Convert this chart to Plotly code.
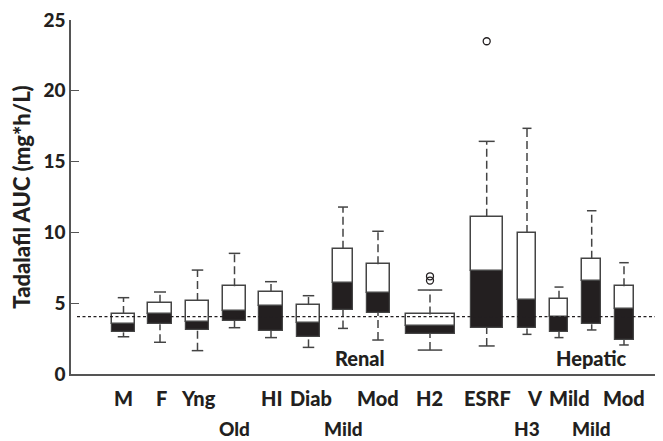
import plotly.graph_objects as go

# ---- data ----
groups = ["M", "F", "Yng", "Old", "HI", "Diab", "Renal Mild", "Renal Mod",
          "H2", "ESRF", "H3", "Hepatic Mild", "Hepatic Mild 2", "Hepatic Mod"]
upper = [5.39, 5.79, 7.34, 8.52, 6.52, 5.53, 11.79, 10.08, 5.93, 16.43, 17.35, 6.14, 11.53, 7.86]
q3 = [4.24, 5.04, 5.16, 6.19, 5.79, 4.87, 8.85, 7.75, 4.21, 11.11, 9.96, 5.32, 8.14, 6.19]
median = [3.53, 4.21, 3.67, 4.45, 4.78, 3.58, 6.45, 5.74, 3.38, 7.27, 5.23, 4.05, 6.57, 4.59]
q1 = [2.94, 3.51, 3.11, 3.77, 3.04, 2.63, 4.54, 4.31, 2.83, 3.27, 3.22, 2.97, 3.51, 2.40]
lower = [2.63, 2.24, 1.65, 3.27, 2.57, 1.88, 3.22, 2.40, 1.69, 1.98, 2.80, 2.57, 3.11, 2.05]

outlier_group = [8, 8, 9]
outlier_value = [6.90, 6.60, 23.5]

reference_value = 4.05

row1_labels = ["M", "F", "Yng", "HI", "Diab", "Mod", "H2", "ESRF", "V", "Mild", "Mod"]
row2_labels = ["Old", "Mild", "H3", "Mild"]
section_labels = ["Renal", "Hepatic"]

# ---- layout (positions / sizes) ----
positions = [123.5, 160, 197.5, 234.5, 271, 308.5, 343, 378, 430, 486.7, 527, 559, 591.7, 624]
widths = [23, 24, 23, 23, 24, 23, 20, 23, 49, 32, 18, 18, 19, 19]
row1_x = [123.5, 161, 198, 271.5, 311, 377.5, 429.5, 487, 534.5, 569, 624]
row2_x = [234.5, 343, 527, 591.7]
section_x = [360, 591]

INK = "#231f20"
LINE = "#444444"
FONT = "Lato, 'Open Sans', sans-serif"
W = 900

fig = go.Figure()

# lower (black) half of each box: q1 -> median
fig.add_trace(go.Bar(
    x=positions, base=q1, y=[m - a for m, a in zip(median, q1)], width=widths,
    marker=dict(color=INK, line=dict(color=LINE, width=1.2)),
    hoverinfo="skip", showlegend=False))
# upper (white) half: median -> q3
fig.add_trace(go.Bar(
    x=positions, base=median, y=[b - m for b, m in zip(q3, median)], width=widths,
    marker=dict(color="white", line=dict(color=LINE, width=1.5)),
    hoverinfo="skip", showlegend=False))

# dashed whiskers
wx, wy = [], []
for p, lo, a, b, hi in zip(positions, lower, q1, q3, upper):
    wx += [p, p, None, p, p, None]
    wy += [b, hi, None, lo, a, None]
fig.add_trace(go.Scatter(x=wx, y=wy, mode="lines",
                         line=dict(color=LINE, width=1.5, dash="8px,4px"),
                         hoverinfo="skip", showlegend=False))
# caps
cx, cy = [], []
for p, w, lo, hi in zip(positions, widths, lower, upper):
    cx += [p - w / 4, p + w / 4, None, p - w / 4, p + w / 4, None]
    cy += [hi, hi, None, lo, lo, None]
fig.add_trace(go.Scatter(x=cx, y=cy, mode="lines",
                         line=dict(color=LINE, width=1.5),
                         hoverinfo="skip", showlegend=False))
# outliers
fig.add_trace(go.Scatter(x=[positions[g] for g in outlier_group], y=outlier_value,
                         mode="markers",
                         marker=dict(symbol="circle-open", size=7, color=INK,
                                     line=dict(width=1.3)),
                         hoverinfo="skip", showlegend=False))

# reference line
fig.add_shape(type="line", xref="x", yref="y", x0=77, x1=663,
              y0=reference_value, y1=reference_value,
              line=dict(color=INK, width=1.2, dash="3px,2.5px"))

lab_font = dict(family=FONT, size=20, color=INK, weight=W)
lab_font2 = dict(family=FONT, size=19, color=INK, weight=W)
annotations = []
for t, x in zip(row1_labels, row1_x):
    annotations.append(dict(x=x, y=-0.068, xref="x", yref="paper", text=t,
                            yanchor="middle", xanchor="center",
                            showarrow=False, font=lab_font))
for t, x in zip(row2_labels, row2_x):
    annotations.append(dict(x=x, y=-0.153, xref="x", yref="paper", text=t,
                            yanchor="middle", xanchor="center",
                            showarrow=False, font=lab_font2))
for t, x in zip(section_labels, section_x):
    annotations.append(dict(x=x, y=1.13, xref="x", yref="y", text=t,
                            yanchor="middle", xanchor="center",
                            showarrow=False, font=lab_font))

# page body has an 8px margin: figure is sized so that it fills the 663x441 window
fig.update_layout(
    width=655, height=433,
    margin=dict(l=63, r=0, t=12, b=67),
    paper_bgcolor="white", plot_bgcolor="white",
    barmode="overlay", bargap=0,
    showlegend=False,
    annotations=annotations,
    xaxis=dict(range=[71, 663], showline=True, linecolor="#555555", linewidth=1.5,
               showgrid=False, zeroline=False, showticklabels=False, ticks=""),
    yaxis=dict(range=[0, 25], tickvals=[0, 5, 10, 15, 20, 25],
               showline=True, linecolor="#555555", linewidth=1.5,
               ticks="inside", ticklen=8, tickcolor="#555555", tickwidth=1.2,
               showgrid=False, zeroline=False, ticklabeloverflow="allow",
               tickfont=dict(family=FONT, size=19, color=INK, weight=W),
               title=dict(text="Tadalafil AUC (mg*h/L)", standoff=9,
                          font=dict(family=FONT, size=22, color=INK, weight=W))),
)

fig.write_html("out.html")
